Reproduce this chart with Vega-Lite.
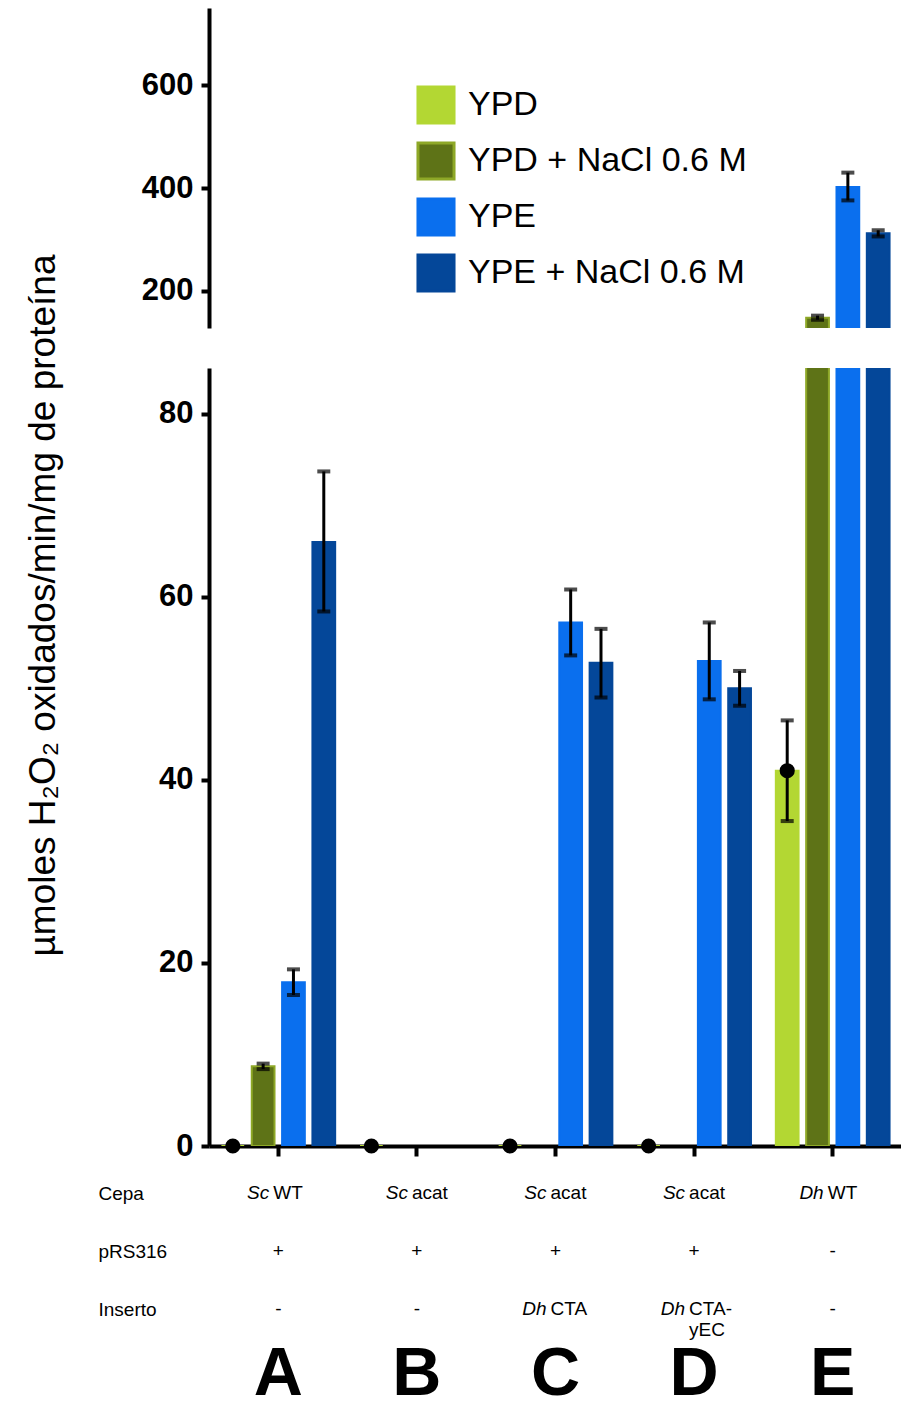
{
  "$schema": "https://vega.github.io/schema/vega-lite/v6.json",
  "padding": {"left": 23, "top": 8, "right": 0, "bottom": 3},
  "background": "white",
  "config": {
    "view": {"stroke": null},
    "font": "Liberation Sans",
    "axis": {"grid": false, "domainColor": "black", "tickColor": "black", "labelColor": "black", "titleColor": "black"}
  },
  "datasets": {
    "bars": [
      {"g": "A", "serie": "YPD", "v": 0, "lo": null, "hi": null},
      {"g": "A", "serie": "YPD + NaCl 0.6 M", "v": 8.7, "lo": 8.4, "hi": 9.0},
      {"g": "A", "serie": "YPE", "v": 17.9, "lo": 16.5, "hi": 19.3},
      {"g": "A", "serie": "YPE + NaCl 0.6 M", "v": 66.0, "lo": 58.4, "hi": 73.7},
      {"g": "B", "serie": "YPD", "v": 0, "lo": null, "hi": null},
      {"g": "C", "serie": "YPD", "v": 0, "lo": null, "hi": null},
      {"g": "C", "serie": "YPE", "v": 57.2, "lo": 53.6, "hi": 60.8},
      {"g": "C", "serie": "YPE + NaCl 0.6 M", "v": 52.8, "lo": 49.0, "hi": 56.5},
      {"g": "D", "serie": "YPD", "v": 0, "lo": null, "hi": null},
      {"g": "D", "serie": "YPE", "v": 53.0, "lo": 48.8, "hi": 57.2},
      {"g": "D", "serie": "YPE + NaCl 0.6 M", "v": 50.0, "lo": 48.1, "hi": 51.9},
      {"g": "E", "serie": "YPD", "v": 41.0, "lo": 35.5, "hi": 46.5},
      {"g": "E", "serie": "YPD + NaCl 0.6 M", "v": 148, "lo": 144, "hi": 152},
      {"g": "E", "serie": "YPE", "v": 402, "lo": 376, "hi": 430},
      {"g": "E", "serie": "YPE + NaCl 0.6 M", "v": 312, "lo": 306, "hi": 318}
    ],
    "tabla": [
      {"g": "A", "row": "Cepa", "it": "Sc", "txt": "WT"},
      {"g": "B", "row": "Cepa", "it": "Sc", "txt": "acat"},
      {"g": "C", "row": "Cepa", "it": "Sc", "txt": "acat"},
      {"g": "D", "row": "Cepa", "it": "Sc", "txt": "acat"},
      {"g": "E", "row": "Cepa", "it": "Dh", "txt": "WT"},
      {"g": "A", "row": "pRS316", "plain": "+"},
      {"g": "B", "row": "pRS316", "plain": "+"},
      {"g": "C", "row": "pRS316", "plain": "+"},
      {"g": "D", "row": "pRS316", "plain": "+"},
      {"g": "E", "row": "pRS316", "plain": "-"},
      {"g": "A", "row": "Inserto", "plain": "-"},
      {"g": "B", "row": "Inserto", "plain": "-"},
      {"g": "C", "row": "Inserto", "it": "Dh", "txt": "CTA"},
      {"g": "D", "row": "Inserto", "it": "Dh\n ", "txt": "CTA-\nyEC"},
      {"g": "E", "row": "Inserto", "plain": "-"},
      {"g": "A", "row": "Letra", "big": "A"},
      {"g": "B", "row": "Letra", "big": "B"},
      {"g": "C", "row": "Letra", "big": "C"},
      {"g": "D", "row": "Letra", "big": "D"},
      {"g": "E", "row": "Letra", "big": "E"}
    ]
  },
  "spacing": 40,
  "bounds": "flush",
  "resolve": {"scale": {"x": "independent", "y": "independent", "xOffset": "independent"}},
  "vconcat": [
    {
      "width": 693,
      "height": 320,
      "data": {"name": "bars"},
      "encoding": {
        "x": {"field": "g", "type": "nominal", "axis": null, "scale": {"domain": ["A", "B", "C", "D", "E"], "paddingInner": 0, "paddingOuter": 0}},
        "xOffset": {"field": "serie", "type": "nominal", "scale": {"domain": ["YPD", "YPD + NaCl 0.6 M", "YPE", "YPE + NaCl 0.6 M"], "paddingInner": 0.25, "paddingOuter": 0.41}}
      },
      "layer": [
        {
          "mark": {"type": "bar", "clip": true, "strokeWidth": 2, "opacity": 1},
          "encoding": {
            "y": {"field": "v", "type": "quantitative", "stack": null,
              "scale": {"domain": [128, 750], "zero": false, "nice": false},
              "axis": {"values": [200, 400, 600], "title": null, "labelFontSize": 31, "labelFontWeight": "bold", "tickSize": 8, "tickWidth": 4, "domainWidth": 4, "labelPadding": 8}},
            "y2": {"datum": 0},
            "fill": {"field": "serie", "type": "nominal",
              "scale": {"domain": ["YPD", "YPD + NaCl 0.6 M", "YPE", "YPE + NaCl 0.6 M"], "range": ["#b3d733", "#5e7317", "#0a6fee", "#044799"]},
              "legend": {"title": null, "orient": "none", "legendX": 207, "legendY": 77, "symbolType": "square", "symbolSize": 1300, "symbolStrokeWidth": 3, "symbolOpacity": 1, "labelFontSize": 34, "labelLimit": 500, "rowPadding": 6, "labelOffset": 12, "labelColor": "black"}},
            "stroke": {"field": "serie", "type": "nominal",
              "scale": {"domain": ["YPD", "YPD + NaCl 0.6 M", "YPE", "YPE + NaCl 0.6 M"], "range": ["#b3d733", "#8ea827", "#0a6fee", "#044799"]},
              "legend": {"title": null, "orient": "none", "legendX": 207, "legendY": 77, "symbolType": "square", "symbolSize": 1300, "symbolStrokeWidth": 3, "symbolOpacity": 1, "labelFontSize": 34, "labelLimit": 500, "rowPadding": 6, "labelOffset": 12, "labelColor": "black"}}
          }
        },
        {
          "transform": [{"filter": "isValid(datum.hi) && datum.hi > 128"}],
          "mark": {"type": "rule", "strokeWidth": 3, "color": "black"},
          "encoding": {"y": {"field": "lo", "type": "quantitative"}, "y2": {"field": "hi"}}
        },
        {
          "transform": [{"filter": "isValid(datum.hi) && datum.hi > 128"}],
          "mark": {"type": "tick", "size": 13, "thickness": 4, "color": "black"},
          "encoding": {"y": {"field": "hi", "type": "quantitative"}}
        },
        {
          "transform": [{"filter": "isValid(datum.hi) && datum.hi > 128"}],
          "mark": {"type": "tick", "size": 13, "thickness": 4, "color": "black"},
          "encoding": {"y": {"field": "lo", "type": "quantitative"}}
        }
      ]
    },
    {
      "spacing": 18,
      "bounds": "flush",
      "resolve": {"scale": {"x": "independent", "y": "independent", "xOffset": "independent"}},
      "vconcat": [
        {
          "width": 693,
          "height": 778,
          "data": {"name": "bars"},
          "encoding": {
            "x": {"field": "g", "type": "nominal", "scale": {"domain": ["A", "B", "C", "D", "E"], "paddingInner": 0, "paddingOuter": 0},
              "axis": {"title": null, "labels": false, "tickSize": 10, "tickWidth": 4, "domainWidth": 4}},
            "xOffset": {"field": "serie", "type": "nominal", "scale": {"domain": ["YPD", "YPD + NaCl 0.6 M", "YPE", "YPE + NaCl 0.6 M"], "paddingInner": 0.25, "paddingOuter": 0.41}}
          },
          "layer": [
            {
              "mark": {"type": "bar", "clip": true, "strokeWidth": 2, "opacity": 1},
              "encoding": {
                "y": {"field": "v", "type": "quantitative", "stack": null,
                  "scale": {"domain": [0, 85], "nice": false},
                  "axis": {"values": [0, 20, 40, 60, 80], "title": "µmoles H₂O₂ oxidados/min/mg de proteína",
                    "titleFontSize": 37, "titleFontWeight": "normal",
                    "titleX": -166, "titleY": 237, "titleAngle": -90, "titleBaseline": "middle", "titleAlign": "center",
                    "labelFontSize": 31, "labelFontWeight": "bold", "tickSize": 8, "tickWidth": 4, "domainWidth": 4, "labelPadding": 8}},
                "y2": {"datum": 0},
                "fill": {"field": "serie", "type": "nominal"},
                "stroke": {"field": "serie", "type": "nominal"}
              }
            },
            {
              "transform": [{"filter": "isValid(datum.hi) && datum.hi <= 85"}],
              "mark": {"type": "rule", "strokeWidth": 3, "color": "black"},
              "encoding": {"y": {"field": "lo", "type": "quantitative"}, "y2": {"field": "hi"}}
            },
            {
              "transform": [{"filter": "isValid(datum.hi) && datum.hi <= 85"}],
              "mark": {"type": "tick", "size": 13, "thickness": 4, "color": "black"},
              "encoding": {"y": {"field": "hi", "type": "quantitative"}}
            },
            {
              "transform": [{"filter": "isValid(datum.hi) && datum.hi <= 85"}],
              "mark": {"type": "tick", "size": 13, "thickness": 4, "color": "black"},
              "encoding": {"y": {"field": "lo", "type": "quantitative"}}
            },
            {
              "transform": [{"filter": "datum.serie == 'YPD'"}],
              "mark": {"type": "point", "filled": true, "color": "black", "size": 230, "opacity": 1},
              "encoding": {"y": {"field": "v", "type": "quantitative"}}
            }
          ]
        },
        {
          "width": 693,
          "height": 232,
          "data": {"name": "tabla"},
          "encoding": {
            "x": {"field": "g", "type": "nominal", "axis": null, "scale": {"domain": ["A", "B", "C", "D", "E"], "paddingInner": 0, "paddingOuter": 0}},
            "y": {"field": "row", "type": "ordinal",
              "scale": {"type": "point", "domain": ["Cepa", "pRS316", "Inserto", "Letra"], "padding": 0.5},
              "axis": {"title": null, "domain": false, "ticks": false, "labelAlign": "left", "labelPadding": 111, "labelFontSize": 19, "labelExpr": "datum.value == 'Letra' ? '' : datum.value"}}
          },
          "layer": [
            {
              "transform": [{"filter": "datum.plain"}],
              "mark": {"type": "text", "fontSize": 19, "align": "center", "baseline": "middle", "color": "black"},
              "encoding": {"text": {"field": "plain"}}
            },
            {
              "transform": [{"filter": "datum.it"}],
              "mark": {"type": "text", "fontSize": 19, "fontStyle": "italic", "align": "right", "dx": -9, "baseline": "middle", "lineBreak": "\n", "color": "black"},
              "encoding": {"text": {"field": "it"}}
            },
            {
              "transform": [{"filter": "datum.txt"}],
              "mark": {"type": "text", "fontSize": 19, "align": "left", "dx": -5, "baseline": "middle", "lineBreak": "\n", "color": "black"},
              "encoding": {"text": {"field": "txt"}}
            },
            {
              "transform": [{"filter": "datum.big"}],
              "mark": {"type": "text", "fontSize": 68, "fontWeight": "bold", "align": "center", "baseline": "middle", "dy": 8, "color": "black"},
              "encoding": {"text": {"field": "big"}}
            }
          ]
        }
      ]
    }
  ]
}
